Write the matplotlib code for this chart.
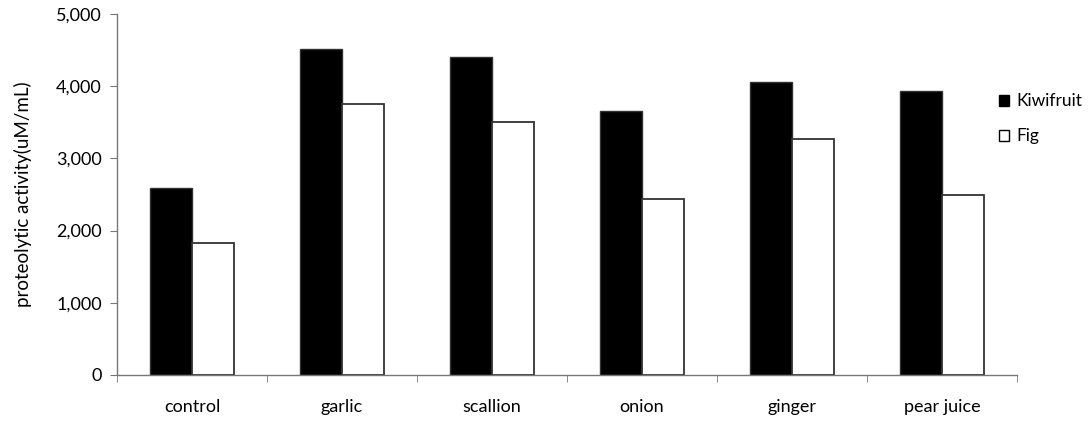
import matplotlib.pyplot as plt
import numpy as np
from matplotlib.ticker import FuncFormatter, FixedLocator
from matplotlib.patches import Patch

categories = ['control', 'garlic', 'scallion', 'onion', 'ginger', 'pear juice']
kiwifruit = [2590, 4510, 4400, 3650, 4060, 3930]
fig_vals = [1830, 3750, 3510, 2440, 3270, 2500]
yticks = [0, 1000, 2000, 3000, 4000, 5000]

plt.rcParams['font.family'] = ['Lato', 'DejaVu Sans']

fig = plt.figure(figsize=(10.89, 4.21), dpi=100)
ax = fig.add_axes([0.1074, 0.1093, 0.8265, 0.8574])

x = np.arange(len(categories))
w = 0.28
ax.bar(x - w / 2, kiwifruit, w, color='black', edgecolor='#333333', linewidth=1, label='Kiwifruit')
ax.bar(x + w / 2, fig_vals, w, color='white', edgecolor='#333333', linewidth=1.3, label='Fig')

ax.set_xlim(-0.5, len(categories) - 0.5)
ax.set_ylim(0, 5000)
ax.set_yticks(yticks)
ax.yaxis.set_major_formatter(FuncFormatter(lambda v, p: '{:,.0f}'.format(v)))
ax.set_ylabel('proteolytic activity(uM/mL)', fontsize=13.5, labelpad=17)

# category labels centred, ticks at the boundaries
ax.set_xticks(x)
ax.set_xticklabels(categories, fontsize=13)
ax.tick_params(axis='x', which='major', length=0, pad=17)
ax.xaxis.set_minor_locator(FixedLocator(np.arange(len(categories) + 1) - 0.5))
ax.tick_params(axis='x', which='minor', length=5, color='#777777', direction='out')
ax.tick_params(axis='y', length=5, color='#777777', labelsize=13, pad=6)

for s in ['top', 'right']:
    ax.spines[s].set_visible(False)
for s in ['left', 'bottom']:
    ax.spines[s].set_color('#777777')
    ax.spines[s].set_linewidth(1)

handles = [Patch(facecolor='black', edgecolor='black'),
           Patch(facecolor='white', edgecolor='black', linewidth=1)]
ax.legend(handles, ['Kiwifruit', 'Fig'], loc='upper left', bbox_to_anchor=(0.972, 0.80),
          frameon=False, fontsize=12.5, handlelength=0.6, handleheight=0.6,
          handletextpad=0.4, labelspacing=1.1, borderaxespad=0)

fig.savefig('out.png', dpi=100)
